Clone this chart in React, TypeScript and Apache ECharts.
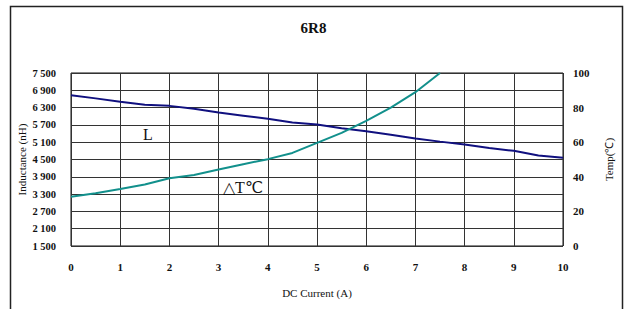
import React, { useEffect, useRef } from "react";
import * as echarts from "echarts";

const currents = [0, 0.5, 1, 1.5, 2, 2.5, 3, 3.5, 4, 4.5, 5, 5.5, 6, 6.5, 7, 7.5, 8, 8.5, 9, 9.5, 10];
const inductance = [6730, 6620, 6500, 6400, 6360, 6260, 6130, 6020, 5910, 5780, 5710, 5580, 5480, 5360, 5230, 5120, 5020, 4900, 4800, 4640, 4560];
const tempCurrents = [0, 0.5, 1, 1.5, 2, 2.5, 3, 3.5, 4, 4.5, 5, 5.5, 6, 6.5, 7, 7.5];
const tempRise = [28.5, 30.5, 33, 35.6, 39.2, 41, 44.2, 47.3, 50.2, 53.8, 59.6, 65.4, 72.3, 80, 88.9, 100];

const SERIF = "Liberation Serif";

export default function App() {
  const ref = useRef<HTMLDivElement>(null);
  useEffect(() => {
    document.body.style.margin = "0";
    const chart = echarts.init(ref.current!, null, { renderer: "svg" });
    const fmt = (v: number) => String(v).replace(/\B(?=(\d{3})+(?!\d))/g, " ");
    chart.setOption({
      animation: false,
      backgroundColor: "#fff",
      textStyle: { fontFamily: SERIF },
      title: {
        text: "6R8",
        left: "center",
        top: 15,
        textStyle: { fontFamily: SERIF, fontSize: 15, fontWeight: "bold", color: "#111" },
      },
      grid: {
        left: 71,
        right: 64,
        top: 73,
        bottom: 63,
        show: true,
        borderColor: "#111",
        borderWidth: 1,
        backgroundColor: "transparent",
      },
      xAxis: {
        type: "value",
        min: 0,
        max: 10,
        interval: 1,
        name: "DC Current (A)",
        nameLocation: "middle",
        nameGap: 41,
        nameMoveOverlap: false,
        nameTextStyle: { fontFamily: SERIF, fontSize: 11, color: "#111" },
        axisLine: { show: false },
        axisTick: { show: false },
        axisLabel: { margin: 15, fontFamily: SERIF, fontSize: 11, fontWeight: "bold", color: "#111" },
        splitLine: { show: true, lineStyle: { color: "#333", width: 1 } },
      },
      yAxis: [
        {
          type: "value",
          min: 1500,
          max: 7500,
          interval: 600,
          name: "Inductance (nH)",
          nameLocation: "middle",
          nameGap: 44,
          nameMoveOverlap: false,
          nameTextStyle: { fontFamily: SERIF, fontSize: 11, color: "#111" },
          axisLine: { show: false },
          axisTick: { show: false },
          axisLabel: { margin: 15, fontFamily: SERIF, fontSize: 10.5, fontWeight: "bold", color: "#111", formatter: fmt },
          splitLine: { show: true, lineStyle: { color: "#333", width: 1 } },
        },
        {
          type: "value",
          min: 0,
          max: 100,
          interval: 20,
          name: "Temp(℃)",
          nameLocation: "middle",
          nameGap: 40,
          nameMoveOverlap: false,
          nameTextStyle: { fontFamily: SERIF, fontSize: 11, color: "#111" },
          axisLine: { show: false },
          axisTick: { show: false },
          axisLabel: { margin: 10, fontFamily: SERIF, fontSize: 11, fontWeight: "bold", color: "#111" },
          splitLine: { show: false },
        },
      ],
      series: [
        {
          name: "L",
          type: "line",
          yAxisIndex: 0,
          data: currents.map((c, i) => [c, inductance[i]]),
          showSymbol: false,
          lineStyle: { color: "#10107f", width: 2 },
          z: 3,
        },
        {
          name: "△T℃",
          type: "line",
          yAxisIndex: 1,
          data: tempCurrents.map((c, i) => [c, tempRise[i]]),
          showSymbol: false,
          lineStyle: { color: "#12908c", width: 2 },
          z: 3,
        },
      ],
      graphic: [
        {
          type: "rect",
          shape: { x: 10.5, y: 6.5, width: 612, height: 320 },
          style: { fill: "none", stroke: "#222", lineWidth: 1.5 },
          silent: true,
        },
        {
          type: "text",
          x: 148,
          y: 134,
          style: { text: "L", font: `16px "${SERIF}"`, fill: "#111", align: "center", verticalAlign: "middle" },
        },
        {
          type: "text",
          x: 243,
          y: 187,
          z: 10,
          style: {
            text: "△T℃",
            font: `16px "${SERIF}"`,
            fill: "#111",
            align: "center",
            verticalAlign: "middle",
          },
        },
      ],
    });
    return () => chart.dispose();
  }, []);
  return <div ref={ref} style={{ width: 627, height: 309 }} />;
}
